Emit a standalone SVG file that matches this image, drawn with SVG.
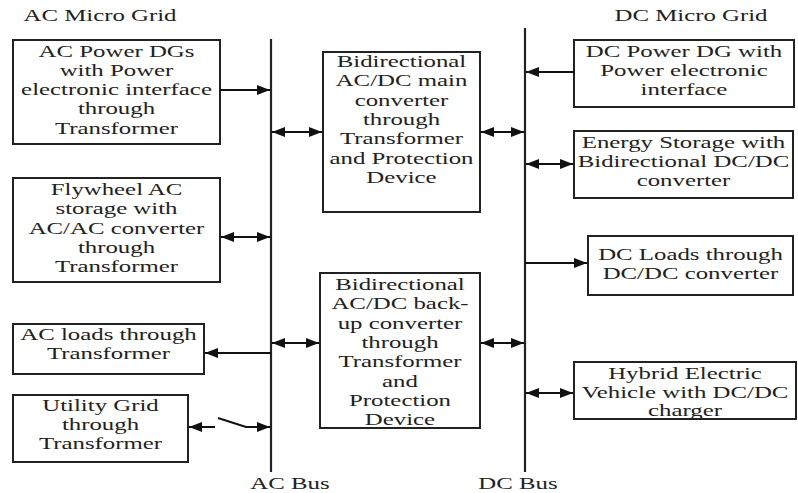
<svg xmlns="http://www.w3.org/2000/svg" width="798" height="493" viewBox="0 0 798 493">
<style>
text{font-family:"Liberation Serif","Times New Roman",serif;font-size:17px;fill:#222;text-anchor:middle}
.box{fill:#fff;stroke:#222;stroke-width:2}
.bus{stroke:#222;stroke-width:2.2;fill:none}
.c{stroke:#111;stroke-width:2;fill:none}
.e{marker-end:url(#ah)}
.b{marker-start:url(#ah);marker-end:url(#ah)}
</style>
<defs>
<marker id="ah" markerUnits="userSpaceOnUse" markerWidth="14" markerHeight="12" refX="13" refY="5.5" orient="auto-start-reverse">
<path d="M0,0.5 L13,5.5 L0,10.5 z" fill="#111"/>
</marker>
</defs>
<rect width="798" height="493" fill="#fff"/>
<g id="titles">
<text transform="translate(100,0) scale(1.46,1)"><tspan x="0" y="21">AC Micro Grid</tspan></text>
<text transform="translate(691,0) scale(1.46,1)"><tspan x="0" y="21">DC Micro Grid</tspan></text>
<text transform="translate(290,0) scale(1.46,1)"><tspan x="0" y="489">AC Bus</tspan></text>
<text transform="translate(518,0) scale(1.46,1)"><tspan x="0" y="489">DC Bus</tspan></text>
</g>
<g id="buses">
<line class="bus" x1="271" y1="39" x2="271" y2="472"/>
<line class="bus" x1="525" y1="28" x2="525" y2="472"/>
</g>
<g id="n-acdg">
<rect class="box" x="13" y="40" width="207" height="104"/>
<text transform="translate(116.5,0) scale(1.46,1)"><tspan x="0" y="57">AC Power DGs</tspan><tspan x="0" y="76">with Power</tspan><tspan x="0" y="95.5">electronic interface</tspan><tspan x="0" y="114.5">through</tspan><tspan x="0" y="134">Transformer</tspan></text>
</g>
<g id="n-flywheel">
<rect class="box" x="13" y="178" width="207" height="104"/>
<text transform="translate(116.5,0) scale(1.46,1)"><tspan x="0" y="195">Flywheel AC</tspan><tspan x="0" y="214.5">storage with</tspan><tspan x="0" y="234">AC/AC converter</tspan><tspan x="0" y="253">through</tspan><tspan x="0" y="272.5">Transformer</tspan></text>
</g>
<g id="n-acloads">
<rect class="box" x="13" y="324" width="191" height="50"/>
<text transform="translate(108.5,0) scale(1.46,1)"><tspan x="0" y="340">AC loads through</tspan><tspan x="0" y="359.5">Transformer</tspan></text>
</g>
<g id="n-utility">
<rect class="box" x="13" y="395" width="175" height="67"/>
<text transform="translate(100.5,0) scale(1.46,1)"><tspan x="0" y="411">Utility Grid</tspan><tspan x="0" y="430">through</tspan><tspan x="0" y="449.5">Transformer</tspan></text>
</g>
<g id="n-main">
<rect class="box" x="323" y="52" width="157" height="160"/>
<text transform="translate(401.5,0) scale(1.46,1)"><tspan x="0" y="67">Bidirectional</tspan><tspan x="0" y="86.5">AC/DC main</tspan><tspan x="0" y="106">converter</tspan><tspan x="0" y="125">through</tspan><tspan x="0" y="144.5">Transformer</tspan><tspan x="0" y="164">and Protection</tspan><tspan x="0" y="183">Device</tspan></text>
</g>
<g id="n-backup">
<rect class="box" x="320" y="273" width="160" height="155"/>
<text transform="translate(400,0) scale(1.46,1)"><tspan x="0" y="290">Bidirectional</tspan><tspan x="0" y="309.5">AC/DC back-</tspan><tspan x="0" y="329">up converter</tspan><tspan x="0" y="348">through</tspan><tspan x="0" y="367.5">Transformer</tspan><tspan x="0" y="387">and</tspan><tspan x="0" y="406">Protection</tspan><tspan x="0" y="425">Device</tspan></text>
</g>
<g id="n-dcdg">
<rect class="box" x="574" y="40" width="220" height="67"/>
<text transform="translate(684,0) scale(1.46,1)"><tspan x="0" y="57.5">DC Power DG with</tspan><tspan x="0" y="76.5">Power electronic</tspan><tspan x="0" y="95.5">interface</tspan></text>
</g>
<g id="n-storage">
<rect class="box" x="574" y="131" width="219" height="67"/>
<text transform="translate(683.5,0) scale(1.46,1)"><tspan x="0" y="148">Energy Storage with</tspan><tspan x="0" y="167">Bidirectional DC/DC</tspan><tspan x="0" y="186">converter</tspan></text>
</g>
<g id="n-dcloads">
<rect class="box" x="588" y="236" width="205" height="59"/>
<text transform="translate(690.5,0) scale(1.46,1)"><tspan x="0" y="260">DC Loads through</tspan><tspan x="0" y="279">DC/DC converter</tspan></text>
</g>
<g id="n-hybrid">
<rect class="box" x="574" y="362" width="222" height="57"/>
<text transform="translate(685,0) scale(1.46,1)"><tspan x="0" y="379">Hybrid Electric</tspan><tspan x="0" y="398">Vehicle with DC/DC</tspan><tspan x="0" y="416">charger</tspan></text>
</g>
<g id="connectors">
<line class="c e" x1="220" y1="90" x2="270" y2="90"/>
<line class="c b" x1="221" y1="237" x2="270" y2="237"/>
<line class="c e" x1="271" y1="353" x2="205" y2="353"/>
<line class="c e" x1="215" y1="427" x2="189" y2="427"/>
<polyline class="c e" points="218,418 246,427 270,427"/>
<line class="c b" x1="272" y1="132" x2="322" y2="132"/>
<line class="c b" x1="481" y1="132" x2="524" y2="132"/>
<line class="c b" x1="272" y1="343" x2="319" y2="343"/>
<line class="c b" x1="481" y1="343" x2="524" y2="343"/>
<line class="c e" x1="574" y1="72" x2="526" y2="72"/>
<line class="c b" x1="526" y1="164" x2="573" y2="164"/>
<line class="c e" x1="525" y1="263" x2="587" y2="263"/>
<line class="c b" x1="526" y1="393" x2="573" y2="393"/>
</g>
</svg>
